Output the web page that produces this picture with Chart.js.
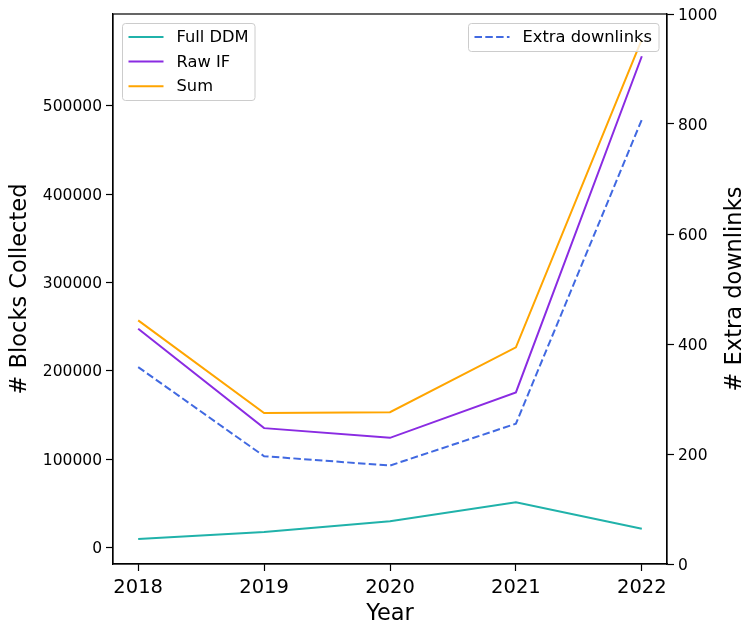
<!DOCTYPE html>
<html>
<head>
<meta charset="utf-8">
<script src="https://cdn.jsdelivr.net/npm/chart.js@4/dist/chart.umd.min.js"></script>
<style>
  html, body { margin: 0; padding: 0; background: #fff; }
  #wrap { width: 748px; height: 625px; }
</style>
</head>
<body>
<div id="wrap"><canvas id="c" width="748" height="625"></canvas></div>
<script>
// Yearly collection counts
const years = [2018, 2019, 2020, 2021, 2022];
const fullDDM = [9500, 17500, 29500, 51000, 21000];
const rawIF = [247500, 135000, 124000, 175500, 556000];
const sumBlocks = [257000, 152000, 153000, 226500, 575000];
const extraDownlinks = [358, 196, 179, 255, 808];

const leftTicks = [0, 100000, 200000, 300000, 400000, 500000];
const rightTicks = [0, 200, 400, 600, 800, 1000];

const FONT = "'DejaVu Sans', 'Liberation Sans', sans-serif";

const toXY = (vals) => vals.map((v, i) => ({ x: years[i], y: v }));

const fixedTicks = (list) => (scale) => { scale.ticks = list.map(v => ({ value: v })); };

// Draws the box frame, both legends and the right-hand axis title
const decorations = {
  id: 'decorations',
  afterDatasetsDraw(chart) {
    const ctx = chart.ctx;
    const a = chart.chartArea;
    ctx.save();
    ctx.strokeStyle = '#000';
    ctx.lineWidth = 1.2;
    ctx.strokeRect(a.left, a.top, a.right - a.left, a.bottom - a.top);

    const drawLegend = (x, y, w, h, items) => {
      ctx.save();
      ctx.beginPath();
      ctx.roundRect(x, y, w, h, 3);
      ctx.fillStyle = 'rgba(255,255,255,0.8)';
      ctx.fill();
      ctx.strokeStyle = '#cccccc';
      ctx.lineWidth = 1;
      ctx.stroke();
      ctx.font = '16.3px ' + FONT;
      ctx.textBaseline = 'middle';
      ctx.textAlign = 'left';
      items.forEach((it, i) => {
        const cy = y + 13.5 + i * 24.6;
        ctx.beginPath();
        ctx.strokeStyle = it.color;
        ctx.lineWidth = 2;
        ctx.setLineDash(it.dash || []);
        ctx.moveTo(x + 6, cy);
        ctx.lineTo(x + 41, cy);
        ctx.stroke();
        ctx.setLineDash([]);
        ctx.fillStyle = '#000';
        ctx.fillText(it.label, x + 54, cy + 1);
      });
      ctx.restore();
    };

    const ds = chart.data.datasets;
    const byLabel = (l) => ds.find(d => d.label === l);
    drawLegend(122.5, 23.5, 132.5, 77, ['Full DDM', 'Raw IF', 'Sum'].map(l => ({
      label: l, color: byLabel(l).borderColor
    })));
    const ex = byLabel('Extra downlinks');
    drawLegend(468.5, 23.5, 190.5, 28, [{ label: ex.label, color: ex.borderColor, dash: ex.borderDash }]);

    // right axis title, reading bottom-to-top
    ctx.save();
    ctx.translate(735, (a.top + a.bottom) / 2);
    ctx.rotate(-Math.PI / 2);
    ctx.font = '22.5px ' + FONT;
    ctx.fillStyle = '#000';
    ctx.textAlign = 'center';
    ctx.textBaseline = 'middle';
    ctx.fillText('# Extra downlinks', 0, 0);
    ctx.restore();
    ctx.restore();
  }
};

new Chart(document.getElementById('c'), {
  type: 'line',
  data: {
    datasets: [
      { label: 'Extra downlinks', data: toXY(extraDownlinks), yAxisID: 'y2',
        borderColor: '#4169e1', borderDash: [7.5, 3.3], borderWidth: 2, order: 0 },
      { label: 'Sum', data: toXY(sumBlocks), yAxisID: 'y',
        borderColor: '#ffa500', borderWidth: 2, order: 1 },
      { label: 'Raw IF', data: toXY(rawIF), yAxisID: 'y',
        borderColor: '#8a2be2', borderWidth: 2, order: 2 },
      { label: 'Full DDM', data: toXY(fullDDM), yAxisID: 'y',
        borderColor: '#20b2aa', borderWidth: 2, order: 3 }
    ]
  },
  options: {
    responsive: false,
    animation: false,
    devicePixelRatio: 1,
    layout: { padding: { top: 14, left: 0, right: 0, bottom: 0 } },
    elements: { point: { radius: 0, hoverRadius: 0 }, line: { tension: 0, fill: false } },
    plugins: { legend: { display: false }, tooltip: { enabled: false } },
    scales: {
      x: {
        type: 'linear', min: 2017.8, max: 2022.2,
        afterBuildTicks: fixedTicks(years),
        afterFit: (s) => { s.height = 61; },
        grid: { drawOnChartArea: false, drawTicks: true, tickLength: 7, color: '#000', tickWidth: 1.2 },
        border: { display: true, color: '#000', width: 1.2 },
        ticks: { color: '#000', font: { family: FONT, size: 19.5 }, padding: 5, maxRotation: 0,
                 callback: (v) => String(v) },
        title: { display: true, text: 'Year', color: '#000',
                 font: { family: FONT, size: 22.5, lineHeight: 1.0 },
                 padding: { top: 0, bottom: 0 } }
      },
      y: {
        position: 'left', min: -18800, max: 603800,
        afterBuildTicks: fixedTicks(leftTicks),
        afterFit: (s) => { s.width = 113; },
        grid: { drawOnChartArea: false, drawTicks: true, tickLength: 7, color: '#000', tickWidth: 1.2 },
        border: { display: true, color: '#000', width: 1.2 },
        ticks: { color: '#000', font: { family: FONT, size: 15.5 }, padding: 4, labelOffset: 1.5,
                 callback: (v) => String(v) },
        title: { display: true, text: '# Blocks Collected', color: '#000',
                 font: { family: FONT, size: 22.5 }, padding: { top: 7, bottom: 0 } }
      },
      y2: {
        position: 'right', min: 0, max: 1000,
        afterBuildTicks: fixedTicks(rightTicks),
        afterFit: (s) => { s.width = 81; },
        grid: { drawOnChartArea: false, drawTicks: true, tickLength: 7, color: '#000', tickWidth: 1.2 },
        border: { display: true, color: '#000', width: 1.2 },
        ticks: { color: '#000', font: { family: FONT, size: 15.5 }, padding: 4, labelOffset: 1.5,
                 callback: (v) => String(v) }
      }
    }
  },
  plugins: [decorations]
});
</script>
</body>
</html>
